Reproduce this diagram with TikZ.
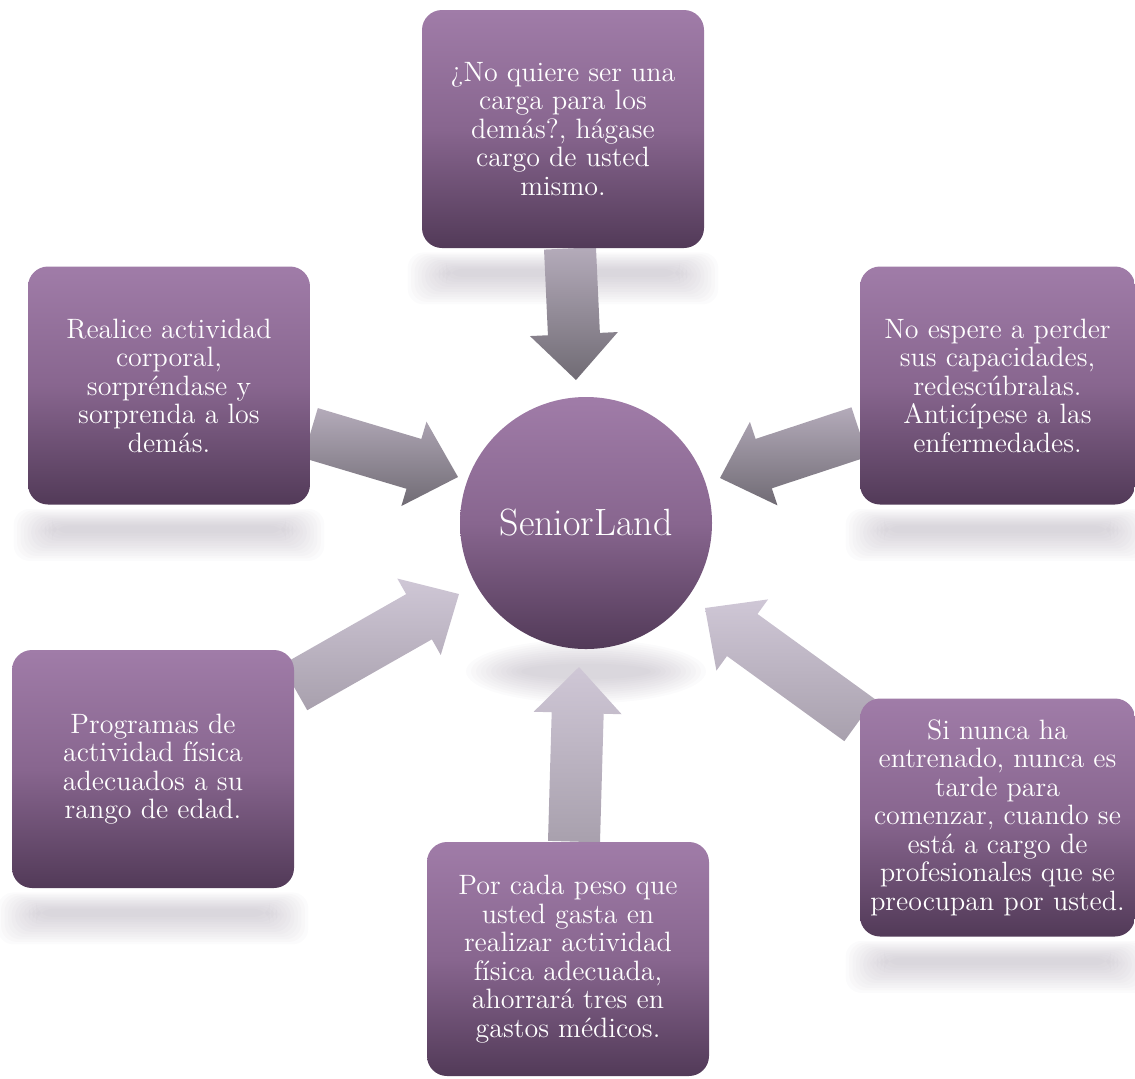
\documentclass[tikz,border=0pt]{standalone}
\usetikzlibrary{calc,backgrounds}

\definecolor{cardtop}{RGB}{160,124,168}
\definecolor{cardmid}{RGB}{136,102,143}
\definecolor{cardbot}{RGB}{82,58,88}
\definecolor{dntop}{RGB}{180,171,186}
\definecolor{dnbot}{RGB}{112,107,116}
\definecolor{uptop}{RGB}{207,199,214}
\definecolor{upbot}{RGB}{168,160,173}
\definecolor{shade}{RGB}{150,140,158}

% block arrow: style, tail, tip
\newcommand{\fatarrow}[3]{%
  \coordinate (h) at ($(#3)!23pt!(#2)$);
  \shade[#1] ($(#2)!13pt!90:(#3)$) -- ($(h)!13pt!90:(#3)$) -- ($(h)!22pt!90:(#3)$)
    -- (#3) -- ($(h)!22pt!-90:(#3)$) -- ($(h)!13pt!-90:(#3)$) -- ($(#2)!13pt!-90:(#3)$) -- cycle;}
% soft band under a box
\newcommand{\bandbelow}[1]{%
  \foreach \i in {0,...,11}
    \fill[blur, rounded corners=8pt] ($(#1.south west)+(-14+3.5*\i,4+1.5*\i)$)
      rectangle ($(#1.south east)+(14-3.5*\i,56-2.5*\i)$);}

\begin{document}
\begin{tikzpicture}[x=0.5pt,y=-0.5pt,
    card/.style={rectangle, rounded corners=10pt, minimum width=141pt, minimum height=119pt,
      align=center, text=white, top color=cardtop, bottom color=cardbot, middle color=cardmid,
      font=\fontsize{14}{14.25}\selectfont},
    hub/.style={circle, minimum size=126pt, text=white, top color=cardtop, bottom color=cardbot,
      middle color=cardmid, font=\fontsize{19}{22}\selectfont},
    dn/.style={top color=dntop, bottom color=dnbot},
    up/.style={top color=uptop, bottom color=upbot},
    blur/.style={fill=shade, opacity=0.035}]
    \useasboundingbox (0,0) rectangle (1135,1078);

    \node[hub] (S) at (586,523) {SeniorLand};
    \node[card] (A) at (563,129) {¿No quiere ser una\\carga para los\\demás?, hágase\\cargo de usted\\mismo.};
    \node[card] (B) at (169,385.5) {Realice actividad\\corporal,\\sorpréndase y\\sorprenda a los\\demás.};
    \node[card, minimum width=137.5pt] (C) at (997.5,385.5) {No espere a perder\\sus capacidades,\\redescúbralas.\\Anticípese a las\\enfermedades.};
    \node[card] (D) at (153,769) {Programas de\\actividad física\\adecuados a su\\rango de edad.};
    \node[card, minimum height=117pt] (E) at (568,959) {Por cada peso que\\usted gasta en\\realizar actividad\\física adecuada,\\ahorrará tres en\\gastos médicos.};
    \node[card, minimum width=137.5pt] (F) at (997.5,817.5) {Si nunca ha\\entrenado, nunca es\\tarde para\\comenzar, cuando se\\está a cargo de\\profesionales que se\\preocupan por usted.};

    % arrow ends
    \coordinate (a1) at ([xshift=3.5pt]A.south);
    \coordinate (b1) at ([yshift=-23.75pt]B.east);
    \coordinate (c1) at ([yshift=-23.25pt]C.west);
    \coordinate (d1) at ([yshift=-19pt]D.north east);
    \coordinate (e1) at ([xshift=3pt]E.north);
    \coordinate (f1) at ([yshift=-11pt]F.north west);
    \coordinate (a2) at (576,380);
    \coordinate (b2) at (458,477);
    \coordinate (c2) at (720,478);
    \coordinate (d2) at (459,594);
    \coordinate (e2) at (579,667);
    \coordinate (f2) at (705,608);

    \begin{scope}[on background layer]
    \bandbelow{A}
    \bandbelow{B}
    \bandbelow{C}
    \bandbelow{D}
    \bandbelow{F}
    \foreach \i in {0,...,11}
      \fill[blur] ($(S.south)+(0,22)$) ellipse [x radius=60pt-2.5pt*\i, y radius=16pt-1.1pt*\i];
    \fatarrow{dn}{a1}{a2}
    \fatarrow{dn}{b1}{b2}
    \fatarrow{dn}{c1}{c2}
    \fatarrow{up}{d1}{d2}
    \fatarrow{up}{e1}{e2}
    \fatarrow{up}{f1}{f2}
    \end{scope}
\end{tikzpicture}
\end{document}
